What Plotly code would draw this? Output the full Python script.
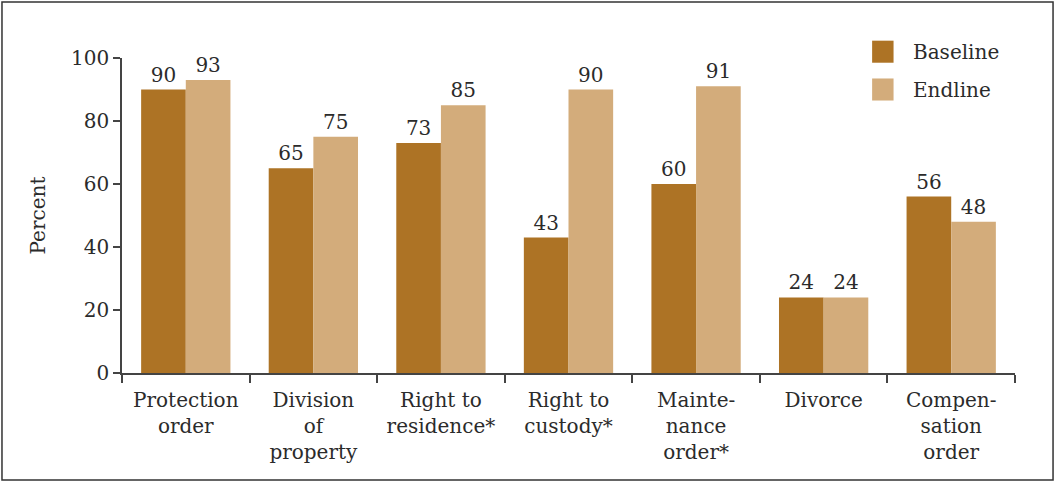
import plotly.graph_objects as go

# Share of respondents aware of each legal remedy
categories = [
    "Protection<br>order",
    "Division<br>of<br>property",
    "Right to<br>residence*",
    "Right to<br>custody*",
    "Mainte-<br>nance<br>order*",
    "Divorce",
    "Compen-<br>sation<br>order",
]
series_names = ["Baseline", "Endline"]
baseline = [90, 65, 73, 43, 60, 24, 56]
endline = [93, 75, 85, 90, 91, 24, 48]
y_ticks = [0, 20, 40, 60, 80, 100]

colors = ["#AD7325", "#D3AC7B"]
font_family = "DejaVu Serif"
text_color = "#2b2b2b"
fs = 20

fig = go.Figure()
for name, vals, col in zip(series_names, [baseline, endline], colors):
    fig.add_trace(go.Bar(
        x=categories, y=vals, name=name,
        marker=dict(color=col, line=dict(width=0)),
        text=[str(v) for v in vals], textposition="outside",
        textfont=dict(family=font_family, size=fs, color=text_color),
        cliponaxis=False,
    ))

fig.update_layout(
    width=1055, height=483,
    margin=dict(l=122, r=40, t=58, b=110),
    paper_bgcolor="white", plot_bgcolor="white",
    barmode="group", bargap=0.3, bargroupgap=0,
    showlegend=False,
    font=dict(family=font_family, size=fs, color=text_color),
)
fig.update_xaxes(
    type="category", tickson="boundaries",
    ticks="outside", ticklen=8, tickcolor="#444", tickwidth=1.5,
    showline=True, linecolor="#444", linewidth=1.5,
    showgrid=False, tickfont=dict(size=fs, color=text_color),
    ticklabelstandoff=8,
)
fig.update_yaxes(
    range=[0, 100], tickvals=y_ticks,
    ticks="outside", ticklen=7, tickcolor="#444", tickwidth=1.5,
    showline=True, linecolor="#444", linewidth=1.5,
    showgrid=False, zeroline=False,
    tickfont=dict(size=fs, color=text_color),
    title=dict(text="Percent", font=dict(size=fs, color=text_color), standoff=20),
)

# Outer frame around the whole figure
fig.add_shape(type="rect", xref="paper", yref="paper",
              x0=-0.1344, x1=1.0426, y0=-0.3397, y1=1.178,
              line=dict(color="#333", width=1.5), fillcolor="rgba(0,0,0,0)")

# Legend drawn as swatches with labels
legend_y = [1.02, 0.90]
for name, col, ly in zip(series_names, colors, legend_y):
    fig.add_shape(type="rect", xref="paper", yref="paper",
                  x0=0.840, x1=0.864, y0=ly - 0.035, y1=ly + 0.035,
                  line=dict(width=0), fillcolor=col)
    fig.add_annotation(xref="paper", yref="paper", x=0.883, y=ly,
                       text=name, showarrow=False, xanchor="left", yanchor="middle",
                       font=dict(family=font_family, size=fs, color=text_color))

fig.write_html("out.html")
